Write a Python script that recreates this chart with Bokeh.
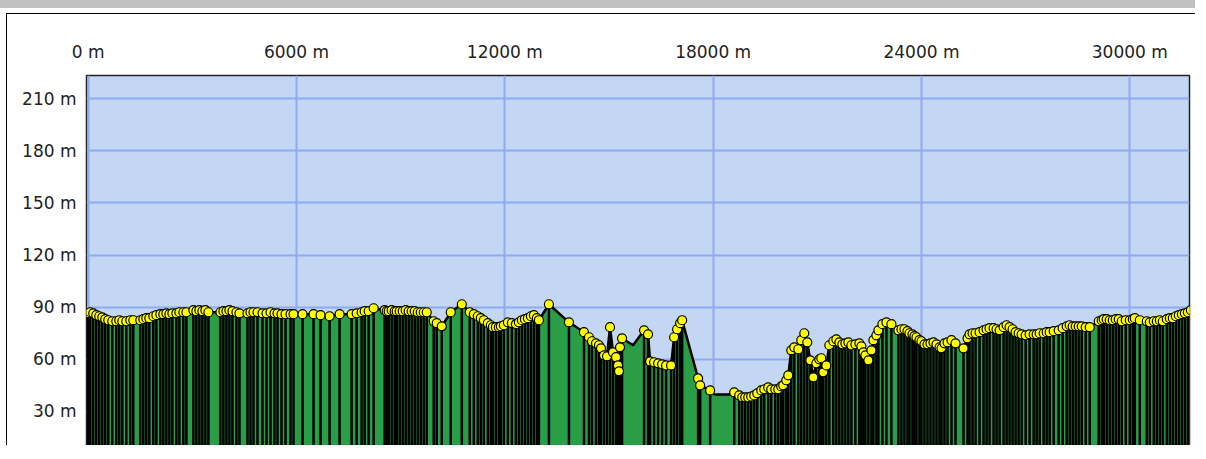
from bokeh.plotting import figure
from bokeh.models import Range1d, FixedTicker, PrintfTickFormatter, ColumnDataSource
from bokeh.embed import file_html
from bokeh.resources import INLINE

# distance along the track (m) and elevation (m)
distance_m = [
    0, 58, 144, 231, 317, 404, 490, 577, 692, 808, 894, 981, 1096, 1212, 1298, 1500,
    1587, 1673, 1760, 1875, 1962, 2077, 2163, 2250, 2337, 2423, 2538, 2625, 2740, 2827,
    3029, 3115, 3202, 3288, 3375, 3462, 3808, 3894, 3981, 4067, 4154, 4269, 4356, 4587,
    4673, 4760, 4875, 5019, 5135, 5250, 5365, 5452, 5567, 5683, 5827, 5913, 6173, 6490,
    6692, 6952, 7240, 7587, 7731, 7875, 7962, 8077, 8221, 8538, 8596, 8654, 8740, 8827,
    8885, 8971, 9058, 9144, 9231, 9317, 9404, 9490, 9577, 9663, 9750, 9952, 10038, 10183,
    10442, 10760,
    10990, 11106, 11221, 11308, 11394, 11510, 11596, 11654, 11740, 11827, 11885, 11971,
    12086, 12202, 12317, 12404, 12490, 12577, 12663, 12750, 12836, 12923, 12981, 13269,
    13846, 14279, 14423, 14510, 14625, 14711, 14769, 14856, 14942, 15029, 15115, 15202,
    15259, 15288, 15317, 15375, 15692, 16010, 16125, 16183, 16298, 16414, 16529, 16644,
    16788, 16875, 16962, 17048, 17106, 17567, 17625, 17913, 18029, 18490, 18606, 18750,
    18836, 18923, 19010, 19096, 19183, 19269, 19385, 19471, 19586, 19673, 19788, 19875,
    19961, 20019, 20106, 20163, 20250, 20336, 20452, 20538, 20625, 20711, 20798, 20885,
    20971, 21058, 21115, 21173, 21259, 21346, 21461, 21548, 21635, 21721, 21808, 21894,
    21981, 22096, 22211, 22269, 22327, 22385, 22471, 22558, 22615, 22702, 22759, 22875,
    22990, 23134, 23336, 23423, 23509, 23596, 23654, 23740, 23798, 23856, 23942, 24000,
    24086, 24173, 24259, 24346, 24433, 24519, 24577, 24663, 24750, 24865, 24981, 25211,
    25327, 25384, 25471, 25558, 25673, 25788, 25875, 25961, 26077, 26163, 26250, 26365,
    26452, 26538, 26625, 26711, 26798, 26885, 27000, 27115, 27231, 27317, 27404, 27519,
    27606, 27692, 27808, 27952, 28067, 28183, 28269, 28356, 28442, 28529, 28615, 28731,
    28846, 29106, 29192, 29250, 29336, 29423, 29510, 29596, 29683, 29769, 29885, 30000,
    30087, 30144, 30288, 30490, 30577, 30692, 30779, 30865, 30952, 31067, 31154, 31240,
    31327, 31413, 31500, 31587, 31673, 31760,
]
elevation_m = [
    86.5, 87.1, 86.5, 85.4, 84.8, 84.2, 83.1, 82.5, 81.9, 81.9, 82.5, 81.9, 81.9, 82.5, 82.5, 82.5,
    83.1, 83.7, 83.7, 84.8, 85.4, 86.0, 86.0, 86.5, 86.0, 86.5, 86.5, 87.1, 87.1, 87.1,
    88.3, 87.7, 88.3, 87.7, 88.3, 87.1, 87.1, 87.7, 87.7, 88.3, 87.7, 87.1, 86.5, 86.5,
    87.1, 87.1, 87.1, 86.5, 86.5, 87.1, 86.5, 86.5, 86.0, 86.0, 86.0, 86.0, 86.0, 86.0,
    85.4, 84.8, 86.0, 86.0, 86.5, 87.1, 87.7, 87.7, 89.4, 88.3, 87.7, 87.7, 88.3, 87.7,
    87.7, 87.7, 87.7, 88.3, 87.7, 87.7, 87.7, 87.1, 87.1, 87.1, 87.1, 81.9, 80.8, 79.0,
    87.1, 91.7,
    87.1, 86.0, 84.8, 83.7, 82.5, 80.8, 79.6, 78.5, 78.5, 78.5, 79.0, 79.6,
    81.3, 80.8, 80.2, 81.3, 82.5, 83.1, 83.7, 84.8, 85.4, 83.7, 82.5, 91.7,
    81.3, 75.6, 72.7, 70.4, 69.2, 68.1, 66.3, 62.3, 61.7, 78.5, 64.0, 61.2,
    56.5, 53.1, 66.9, 72.1, 68.1, 76.7, 74.4, 58.8, 58.3, 57.7, 57.1, 56.5,
    56.5, 72.7, 77.3, 80.8, 82.5, 49.0, 45.0, 42.1, 39.8, 39.8, 41.0, 39.2,
    38.1, 38.1, 38.1, 38.6, 39.2, 40.4, 42.1, 42.7, 43.8, 42.7, 42.7, 42.7,
    44.4, 45.0, 47.9, 50.8, 65.2, 66.9, 65.8, 71.0, 75.0, 69.8, 59.4, 49.6,
    57.7, 60.0, 60.6, 52.5, 56.5, 68.1, 70.4, 71.5, 69.8, 68.6, 69.2, 69.8,
    68.1, 68.6, 69.2, 67.5, 64.0, 62.3, 59.4, 65.2, 71.0, 73.8, 76.7, 80.2,
    81.3, 80.2, 76.7, 77.3, 77.3, 76.2, 75.0, 74.4, 73.3, 72.7, 71.0, 70.4,
    68.6, 68.6, 69.2, 69.8, 68.6, 66.9, 66.3, 69.2, 69.8, 71.0, 69.2, 66.3,
    72.1, 74.4, 75.0, 75.0, 75.6, 76.7, 77.3, 77.9, 77.9, 77.3, 76.7, 78.5,
    79.6, 78.5, 77.3, 75.6, 75.0, 74.4, 73.8, 74.4, 74.4, 74.4, 75.0, 75.0,
    75.6, 75.6, 76.2, 76.7, 77.9, 79.0, 79.6, 79.0, 79.0, 79.0, 79.0, 78.5,
    78.5, 81.9, 82.5, 83.1, 83.1, 82.5, 82.5, 83.1, 83.1, 81.9, 82.5, 82.5,
    83.1, 83.7, 82.5, 81.9, 81.3, 81.9, 81.9, 82.5, 81.9, 83.1, 83.7, 83.7,
    84.8, 85.4, 86.0, 86.5, 87.1, 88.3,
]
# track points drawn without a waypoint marker
no_marker_m = [15692, 18029, 18490]

x_ticks = [0, 6000, 12000, 18000, 24000, 30000]
y_ticks = [30, 60, 90, 120, 150, 180, 210]

Y_BASE = 9.8

marked = [(d, e) for d, e in zip(distance_m, elevation_m) if d not in no_marker_m]
src_all = ColumnDataSource(dict(d=distance_m, e=elevation_m, base=[Y_BASE - 5] * len(distance_m)))
src_mk = ColumnDataSource(dict(d=[m[0] for m in marked], e=[m[1] for m in marked],
                               base=[Y_BASE - 5] * len(marked)))

p = figure(width=1195, height=445, output_backend="svg", toolbar_location=None,
           x_range=Range1d(-50, 31720), y_range=Range1d(Y_BASE, 223.4),
           x_axis_location="above",
           min_border_left=79, min_border_right=13, min_border_top=61, min_border_bottom=13)
p.styles = {
    "border-top": "8px solid #c0c0c0",
    "padding-top": "6px",
    "padding-left": "7px",
    "padding-right": "4px",
    "background-color": "white",
    "background-image": "linear-gradient(#000, #000), linear-gradient(#000, #000)",
    "background-size": "100% 1px, 1px 100%",
    "background-position": "6px 5px, 6px 5px",
    "background-repeat": "no-repeat",
    "background-origin": "padding-box",
}

p.background_fill_color = "#c3d7f5"
p.border_fill_color = "white"
p.outline_line_color = "#222222"
p.outline_line_width = 1.5

for ax in (p.xaxis[0], p.yaxis[0]):
    ax.axis_line_color = None
    ax.major_tick_line_color = None
    ax.minor_tick_line_color = None
    ax.major_label_text_font = "DejaVu Sans"
    ax.major_label_text_font_size = "17px"
    ax.major_label_text_color = "#222222"

p.xaxis[0].major_label_standoff = 8
p.yaxis[0].major_label_standoff = 4

p.xaxis[0].ticker = FixedTicker(ticks=x_ticks)
p.yaxis[0].ticker = FixedTicker(ticks=y_ticks)
p.xaxis[0].formatter = PrintfTickFormatter(format="%d m")
p.yaxis[0].formatter = PrintfTickFormatter(format="%d m")

p.xgrid.ticker = FixedTicker(ticks=x_ticks)
p.ygrid.ticker = FixedTicker(ticks=y_ticks)
p.grid.grid_line_color = "#8eaaf2"
p.grid.grid_line_width = 2

p.varea(x="d", y1="base", y2="e", source=src_all, fill_color="#2a9d47")
p.segment(x0="d", y0="base", x1="d", y1="e", source=src_mk, line_color="black", line_width=2.5)
p.line(x="d", y="e", source=src_all, line_color="black", line_width=2.5)
p.scatter(x="d", y="e", source=src_mk, marker="circle", size=9,
          fill_color="#ffff00", line_color="black", line_width=1.2)

open("out.html", "w").write(file_html(p, INLINE))
